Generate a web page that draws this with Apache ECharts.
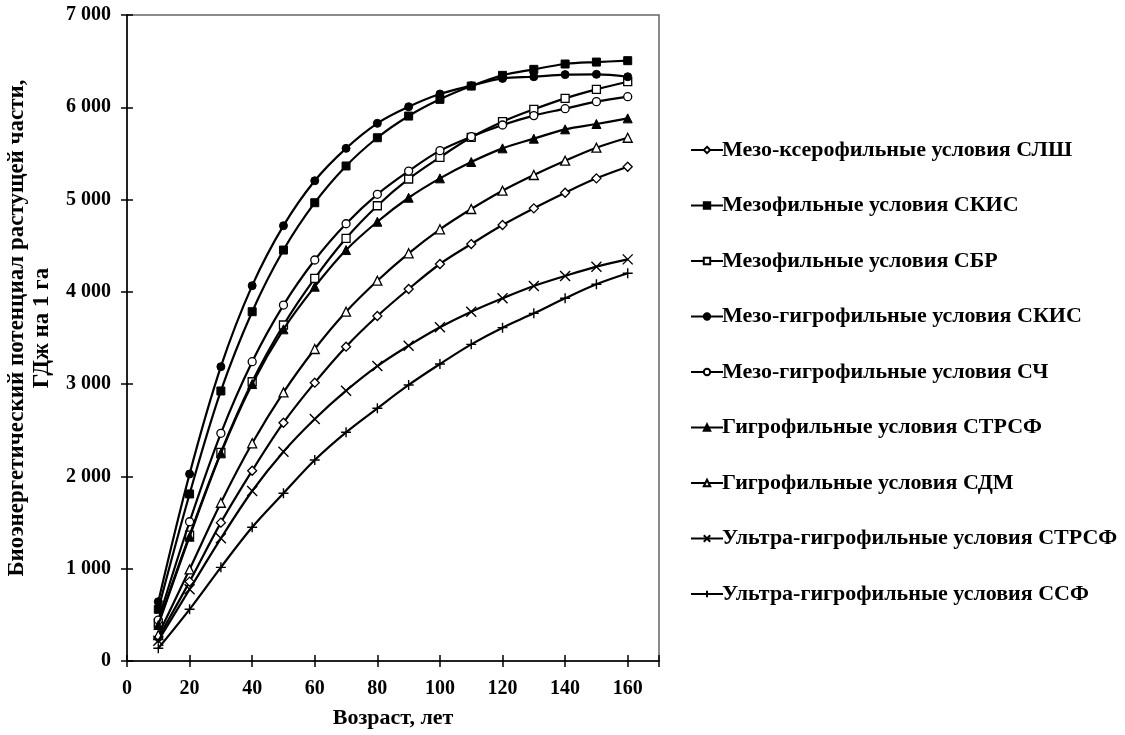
<!DOCTYPE html>
<html>
<head>
<meta charset="utf-8">
<script src="https://cdn.jsdelivr.net/npm/echarts@6/dist/echarts.min.js"></script>
<style>
  html, body { margin: 0; padding: 0; background: #fff; }
  #chart { width: 1125px; height: 735px; }
</style>
</head>
<body>
<div id="chart"></div>
<script>
// Age, years
const ages = [10, 20, 30, 40, 50, 60, 70, 80, 90, 100, 110, 120, 130, 140, 150, 160];

// Series values, GJ per ha
const mezoKseroSLSh = [249, 860, 1499, 2062, 2582, 3016, 3406, 3738, 4031, 4302, 4518, 4724, 4905, 5074, 5230, 5356];
const mezoSKIS = [560, 1810, 2926, 3785, 4453, 4966, 5364, 5670, 5905, 6086, 6230, 6346, 6411, 6469, 6490, 6505];
const mezoSBR = [408, 1365, 2261, 3026, 3641, 4147, 4580, 4933, 5223, 5458, 5675, 5844, 5978, 6097, 6194, 6277];
const mezoGigroSKIS = [643, 2026, 3189, 4067, 4717, 5204, 5555, 5826, 6006, 6144, 6234, 6313, 6331, 6354, 6357, 6331];
const mezoGigroSCh = [444, 1509, 2467, 3243, 3857, 4345, 4738, 5057, 5309, 5530, 5681, 5808, 5910, 5985, 6061, 6115];
const gigroSTRSF = [390, 1347, 2250, 3001, 3594, 4056, 4453, 4760, 5020, 5230, 5407, 5555, 5660, 5761, 5819, 5880];
const gigroSDM = [282, 993, 1715, 2359, 2911, 3381, 3785, 4121, 4418, 4678, 4898, 5096, 5266, 5421, 5562, 5670];
const ultraSTRSF = [220, 777, 1329, 1842, 2268, 2622, 2929, 3196, 3417, 3616, 3785, 3930, 4063, 4172, 4273, 4352];
const ultraSSF = [138, 560, 1015, 1449, 1817, 2178, 2478, 2738, 2991, 3218, 3431, 3612, 3767, 3930, 4082, 4201];

const seriesNames = [
    'Мезо-ксерофильные условия СЛШ',
    'Мезофильные условия СКИС',
    'Мезофильные условия СБР',
    'Мезо-гигрофильные условия СКИС',
    'Мезо-гигрофильные условия СЧ',
    'Гигрофильные условия СТРСФ',
    'Гигрофильные условия СДМ',
    'Ультра-гигрофильные условия СТРСФ',
    'Ультра-гигрофильные условия ССФ'
];
const seriesValues = [mezoKseroSLSh, mezoSKIS, mezoSBR, mezoGigroSKIS, mezoGigroSCh, gigroSTRSF, gigroSDM, ultraSTRSF, ultraSSF];

const FONT = '"Liberation Serif", "Times New Roman", serif';

// marker per series: [symbol, size, filled]
const markers = [
    ['diamond', 9, false],
    ['rect', 8, true],
    ['rect', 8, false],
    ['circle', 8, true],
    ['circle', 8, false],
    ['triangle', 9, true],
    ['triangle', 9, false],
    ['path://M0,0L10,10M10,0L0,10', 10, 'stroke'],
    ['path://M5,0L5,10M0,5L10,5', 10, 'stroke']
];

const chart = echarts.init(document.getElementById('chart'));

const series = seriesNames.map((name, i) => {
    const m = markers[i];
    let itemStyle;
    if (m[2] === true) {
        itemStyle = { color: '#000', borderColor: '#000', borderWidth: 1 };
    } else if (m[2] === false) {
        itemStyle = { color: '#fff', borderColor: '#000', borderWidth: 1.3 };
    } else {
        itemStyle = { color: 'rgba(0,0,0,0)', borderColor: '#000', borderWidth: 1.4 };
    }
    return {
        name: name,
        type: 'line',
        xAxisIndex: 0,
        yAxisIndex: 0,
        data: ages.map((a, k) => [a, seriesValues[i][k]]),
        smooth: 0.35,
        symbol: m[0],
        symbolSize: m[1],
        showAllSymbol: true,
        lineStyle: { color: '#000', width: 2.2 },
        itemStyle: itemStyle,
        emphasis: { disabled: true },
        animation: false,
        z: 2 + i
    };
});

const tickStyle = { color: '#000', width: 1.5 };

const option = {
    backgroundColor: '#fff',
    animation: false,
    grid: {
        left: 127, top: 15, right: 466, bottom: 74,
        show: true, borderColor: '#666', borderWidth: 1.5
    },
    legend: {
        orient: 'vertical',
        left: 685,
        top: 134,
        itemWidth: 32,
        itemHeight: 8,
        itemGap: 33.5,
        data: seriesNames,
        textStyle: {
            fontFamily: FONT, fontWeight: 'bold', fontSize: 22, color: '#000',
            lineHeight: 20, padding: [0, 0, 0, -6]
        }
    },
    xAxis: [{
        type: 'value',
        min: 0, max: 170, interval: 20,
        name: 'Возраст, лет',
        nameLocation: 'middle',
        nameGap: 46,
        nameTextStyle: { fontFamily: FONT, fontWeight: 'bold', fontSize: 22, color: '#000' },
        axisLine: { show: true, onZero: false, lineStyle: { color: '#000', width: 1.5 } },
        axisTick: { show: true, inside: false, length: 6, lineStyle: tickStyle },
        axisLabel: {
            fontFamily: FONT, fontWeight: 'bold', fontSize: 20, color: '#000', margin: 18,
            formatter: v => (v > 160 ? '' : String(v))
        },
        splitLine: { show: false }
    }, {
        type: 'value',
        position: 'bottom',
        min: 0, max: 170, interval: 20,
        axisLine: { show: false },
        axisTick: { show: true, inside: true, length: 6, lineStyle: tickStyle },
        axisLabel: { show: false },
        splitLine: { show: false }
    }],
    yAxis: [{
        type: 'value',
        min: 0, max: 7000, interval: 1000,
        name: 'Биоэнергетический потенциал растущей части,\nГДж на 1 га',
        nameLocation: 'middle',
        nameGap: 72,
        nameTextStyle: {
            fontFamily: FONT, fontWeight: 'bold', fontSize: 23, color: '#000', lineHeight: 25,
            padding: [0, 0, 0, 20]
        },
        axisLine: { show: true, onZero: false, lineStyle: { color: '#000', width: 1.5 } },
        axisTick: { show: true, inside: false, length: 6, lineStyle: tickStyle },
        axisLabel: {
            fontFamily: FONT, fontWeight: 'bold', fontSize: 20, color: '#000', margin: 16,
            formatter: v => (v >= 1000 ? Math.floor(v / 1000) + ' ' + String(v % 1000).padStart(3, '0') : String(v))
        },
        splitLine: { show: false }
    }, {
        type: 'value',
        position: 'left',
        min: 0, max: 7000, interval: 1000,
        axisLine: { show: false },
        axisTick: { show: true, inside: true, length: 6, lineStyle: tickStyle },
        axisLabel: { show: false },
        splitLine: { show: false }
    }],
    series: series
};

chart.setOption(option);
</script>
</body>
</html>
